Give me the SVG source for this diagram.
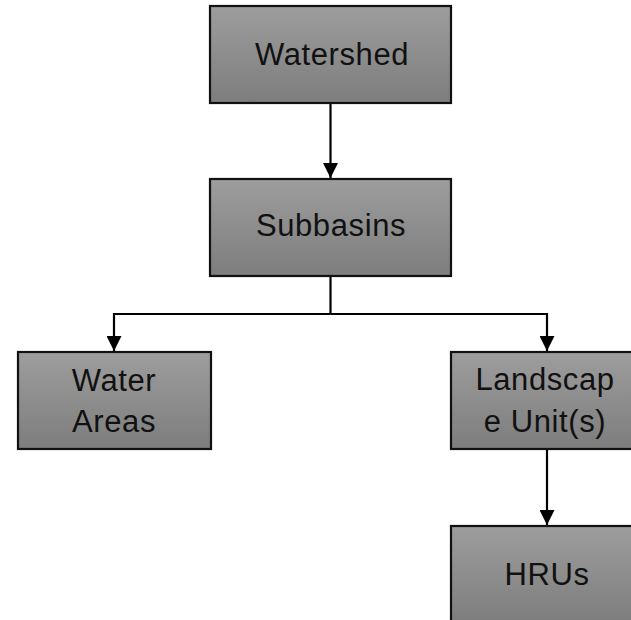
<svg xmlns="http://www.w3.org/2000/svg" width="631" height="620" viewBox="0 0 631 620">
<defs>
<linearGradient id="g" x1="0" y1="0" x2="0" y2="1">
<stop offset="0" stop-color="#9d9d9d"/>
<stop offset="1" stop-color="#7d7d7d"/>
</linearGradient>
<marker id="ah" markerWidth="15" markerHeight="15" viewBox="0 0 15 15" refX="15" refY="7.5" orient="auto" markerUnits="userSpaceOnUse">
<path d="M0,0 L15,7.5 L0,15 Z" fill="#000"/>
</marker>
<style>
.box{fill:url(#g);stroke:#111;stroke-width:2.2}
.t{font-family:"Liberation Sans",Arial,sans-serif;font-size:31px;letter-spacing:0.6px;fill:#111;text-anchor:middle}
.c{fill:none;stroke:#000;stroke-width:2.2}
</style>
</defs>
<g id="connectors">
<path class="c" d="M330.5,103 V178" marker-end="url(#ah)"/>
<path class="c" d="M330.5,276 V314"/>
<path class="c" d="M330.5,314 H114 V351" marker-end="url(#ah)"/>
<path class="c" d="M330.5,314 H547 V351" marker-end="url(#ah)"/>
<path class="c" d="M547,449 V525" marker-end="url(#ah)"/>
</g>
<g id="watershed"><rect class="box" x="210" y="6" width="241" height="97"/><text class="t" x="332" y="65">Watershed</text></g>
<g id="subbasins"><rect class="box" x="210" y="179" width="241" height="97"/><text class="t" x="331" y="236">Subbasins</text></g>
<g id="water-areas"><rect class="box" x="18" y="352" width="193" height="97"/><text class="t" x="114" y="391">Water</text><text class="t" x="114" y="432">Areas</text></g>
<g id="landscape-units"><rect class="box" x="451" y="352" width="193" height="97"/><text class="t" x="545" y="390">Landscap</text><text class="t" x="545" y="432">e Unit(s)</text></g>
<g id="hrus"><rect class="box" x="451" y="526" width="193" height="97"/><text class="t" x="547" y="585">HRUs</text></g>
</svg>
